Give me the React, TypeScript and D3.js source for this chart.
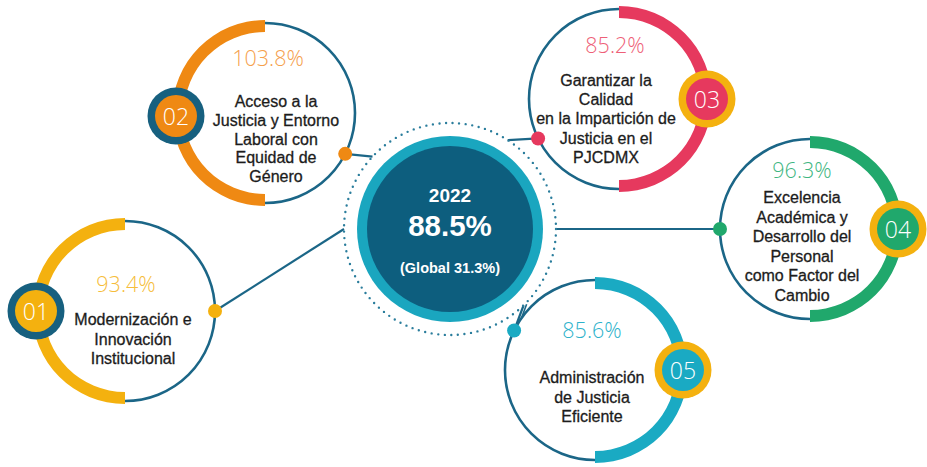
import React from "react";
import * as d3 from "d3";

// ---- data ----
const ids = ["01", "02", "03", "04", "05"];
const values = [93.4, 103.8, 85.2, 96.3, 85.6];
const labels = [
  ["Modernización e", "Innovación", "Institucional"],
  ["Acceso a la", "Justicia y Entorno", "Laboral con", "Equidad de", "Género"],
  ["Garantizar la", "Calidad", "en la Impartición de", "Justicia en el", "PJCDMX"],
  ["Excelencia", "Académica y", "Desarrollo del", "Personal", "como Factor del", "Cambio"],
  ["Administración", "de Justicia", "Eficiente"],
];
const centerYear = "2022";
const centerValue = 88.5;
const globalValue = 31.3;

// ---- layout / style (not data) ----
const W = 927;
const H = 467;
const hub = { cx: 450, cy: 229 };
const layout = [
  { cx: 125, cy: 311, side: "left", dot: 0, end: 180, pdx: 1, pdy: -19, ddx: 8, ddy: 14, lh: 19.5 },
  { cx: 265, cy: 113, side: "left", dot: 27, end: 223, pdx: 3, pdy: -47, ddx: 11, ddy: -6, lh: 18.8 },
  { cx: 619, cy: 99, side: "right", dot: 154, end: 303, pdx: -4, pdy: -46, ddx: -13, ddy: -13, lh: 19.2 },
  { cx: 810, cy: 229, side: "right", dot: 180, end: 0, pdx: -8, pdy: -51, ddx: -8, ddy: -26, lh: 19.6 },
  { cx: 595, cy: 370, side: "right", dot: 206, end: 46, pdx: -3, pdy: -32, ddx: -3, ddy: 13, lh: 19.5 },
];
const bandColors = ["#f4b10f", "#ef8913", "#e6395e", "#20a86c", "#1aaac3"];
const pctColors = ["#f6bd3a", "#f5a04c", "#ee5f78", "#3fb682", "#2db2cb"];
const badgeRing = ["#17607f", "#17607f", "#f4b10f", "#f4b10f", "#f4b10f"];
const teal = "#1b6687";

const R_THIN = 90;
const R_OUT = 93;
const R_IN = 81;

const rad = (deg: number) => (deg * Math.PI) / 180;

export default function App() {
  const band = d3.arc<any>().innerRadius(R_IN).outerRadius(R_OUT);
  const fmt = d3.format(".1f");

  return (
    <svg
      width={W}
      height={H}
      style={{ position: "absolute", left: 0, top: 0, background: "#fff" }}
      fontFamily="Liberation Sans, Arial, sans-serif"
    >
      <rect width={W} height={H} fill="#fff" />

      {/* connectors */}
      {layout.map((l, i) => {
        const x1 = l.cx + R_THIN * Math.cos(rad(l.dot));
        const y1 = l.cy + R_THIN * Math.sin(rad(l.dot));
        const x2 = hub.cx + 106 * Math.cos(rad(l.end));
        const y2 = hub.cy + 106 * Math.sin(rad(l.end));
        return (
          <g key={"c" + i}>
            <line x1={x1} y1={y1} x2={x2} y2={y2} stroke={teal} strokeWidth={2.2} />
            {i === 4 && (
              <line x1={x1 + 3} y1={y1 - 1} x2={x2 + 3} y2={y2 - 1} stroke={teal} strokeWidth={1.6} />
            )}
          </g>
        );
      })}

      {/* hub */}
      <circle
        cx={hub.cx}
        cy={hub.cy}
        r={106}
        fill="none"
        stroke="#2a7d9c"
        strokeWidth={2.4}
        strokeLinecap="round"
        strokeDasharray="0 6.6"
      />
      <circle cx={hub.cx} cy={hub.cy} r={93} fill="#1aa6bf" />
      <circle cx={hub.cx} cy={hub.cy} r={83} fill="#0d5e7e" />
      <text x={hub.cx} y={202} textAnchor="middle" fill="#fff" fontWeight="bold" fontSize={19}>
        {centerYear}
      </text>
      <text x={hub.cx} y={236} textAnchor="middle" fill="#fff" fontWeight="bold" fontSize={29.5}>
        {fmt(centerValue)}%
      </text>
      <text x={hub.cx} y={273} textAnchor="middle" fill="#fff" fontWeight="bold" fontSize={14.5}>
        (Global {fmt(globalValue)}%)
      </text>

      {/* pillars */}
      {layout.map((l, i) => {
        const left = l.side === "left";
        const start = left ? Math.PI : 0;
        const end = left ? 2 * Math.PI : Math.PI;
        const dx = l.cx + R_THIN * Math.cos(rad(l.dot));
        const dy = l.cy + R_THIN * Math.sin(rad(l.dot));
        const bx = l.cx + (left ? -89 : 88);
        const by = l.cy + (i === 1 ? 3 : 0);
        return (
          <g key={"p" + i}>
            <circle cx={l.cx} cy={l.cy} r={R_THIN} fill="#fff" stroke={teal} strokeWidth={2.6} />
            <path
              transform={`translate(${l.cx},${l.cy})`}
              d={band({ startAngle: start, endAngle: end }) || ""}
              fill={bandColors[i]}
            />
            <circle cx={dx} cy={dy} r={7} fill={bandColors[i]} />
            <circle cx={bx} cy={by} r={28.5} fill={badgeRing[i]} />
            <circle cx={bx} cy={by} r={21} fill={bandColors[i]} />
            <text
              x={bx}
              y={by + 8.5}
              textAnchor="middle"
              fill="#fff"
              fontFamily="Open Sans, sans-serif"
              fontWeight={300}
              fontSize={23}
            >
              {ids[i]}
            </text>
            <text
              x={l.cx + l.pdx}
              y={l.cy + l.pdy}
              textAnchor="middle"
              fill={pctColors[i]}
              fontFamily="Open Sans, sans-serif"
              fontWeight={300}
              fontSize={21.5}
            >
              {fmt(values[i])}%
            </text>
            <text
              x={l.cx + l.ddx}
              textAnchor="middle"
              fill="#1c1c1c"
              stroke="#1c1c1c"
              strokeWidth={0.3}
              fontSize={16}
            >
              {labels[i].map((s, k) => (
                <tspan key={k} x={l.cx + l.ddx} y={l.cy + l.ddy + k * l.lh}>
                  {s}
                </tspan>
              ))}
            </text>
          </g>
        );
      })}
    </svg>
  );
}
